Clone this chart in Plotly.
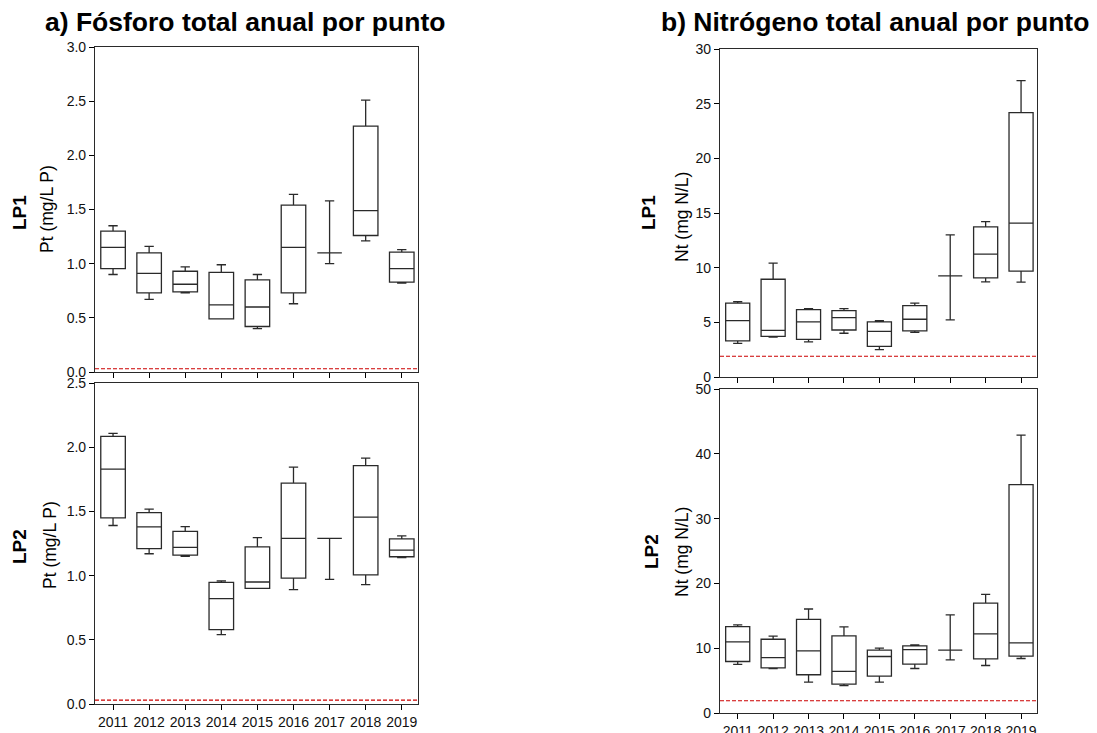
import plotly.graph_objects as go
from plotly.subplots import make_subplots

years = ["2011", "2012", "2013", "2014", "2015", "2016", "2017", "2018", "2019"]

# a) Fósforo total, LP1
p1_min = [0.90, 0.67, 0.73, 0.49, 0.40, 0.63, 1.00, 1.21, 0.82]
p1_q1 = [0.955, 0.73, 0.74, 0.49, 0.42, 0.73, 1.10, 1.26, 0.83]
p1_med = [1.15, 0.91, 0.81, 0.62, 0.60, 1.15, 1.10, 1.49, 0.955]
p1_q3 = [1.30, 1.10, 0.93, 0.92, 0.85, 1.54, 1.10, 2.27, 1.106]
p1_max = [1.35, 1.16, 0.97, 0.99, 0.90, 1.64, 1.58, 2.51, 1.13]

# a) Fósforo total, LP2
p2_min = [1.39, 1.17, 1.15, 0.54, 0.90, 0.89, 0.97, 0.93, 1.14]
p2_q1 = [1.45, 1.21, 1.16, 0.58, 0.90, 0.98, 1.29, 1.005, 1.147]
p2_med = [1.83, 1.38, 1.22, 0.82, 0.95, 1.29, 1.29, 1.456, 1.198]
p2_q3 = [2.085, 1.49, 1.345, 0.948, 1.224, 1.72, 1.29, 1.856, 1.286]
p2_max = [2.108, 1.518, 1.381, 0.959, 1.296, 1.845, 1.29, 1.915, 1.309]

# b) Nitrógeno total, LP1
n1_min = [3.08, 3.66, 3.21, 4.00, 2.50, 4.09, 5.22, 8.70, 8.67]
n1_q1 = [3.30, 3.72, 3.45, 4.30, 2.81, 4.21, 9.25, 9.07, 9.68]
n1_med = [5.16, 4.27, 5.04, 5.43, 4.18, 5.28, 9.25, 11.23, 14.07]
n1_q3 = [6.75, 8.94, 6.17, 6.07, 5.04, 6.53, 9.25, 13.74, 24.18]
n1_max = [6.90, 10.41, 6.26, 6.26, 5.16, 6.75, 13.00, 14.22, 27.11]

# b) Nitrógeno total, LP2
n2_min = [7.49, 6.87, 4.77, 4.21, 4.77, 6.87, 8.21, 7.33, 8.41]
n2_q1 = [7.95, 6.97, 5.90, 4.46, 5.69, 7.54, 9.69, 8.36, 8.77]
n2_med = [10.97, 8.56, 9.59, 6.41, 8.72, 9.79, 9.69, 12.21, 10.82]
n2_q3 = [13.33, 11.38, 14.46, 11.90, 9.69, 10.36, 9.69, 16.97, 35.23]
n2_max = [13.59, 11.85, 16.05, 13.28, 10.00, 10.51, 15.13, 18.31, 42.87]

p_limit = 0.03
n_limit = 1.9

titles = ["a) Fósforo total anual por punto", "b) Nitrógeno total anual por punto"]
row_labels = ["LP1", "LP2"]
unit_p = "Pt (mg/L P)"
unit_n = "Nt (mg N/L)"

FONT = "Liberation Sans, Arial, sans-serif"
LINE = "#2a2a2a"

fig = make_subplots(rows=2, cols=2)

panels = [
    (1, 1, p1_min, p1_q1, p1_med, p1_q3, p1_max, p_limit),
    (2, 1, p2_min, p2_q1, p2_med, p2_q3, p2_max, p_limit),
    (1, 2, n1_min, n1_q1, n1_med, n1_q3, n1_max, n_limit),
    (2, 2, n2_min, n2_q1, n2_med, n2_q3, n2_max, n_limit),
]

for r, c, mn, q1, md, q3, mx, lim in panels:
    fig.add_trace(
        go.Box(
            x=years, q1=q1, median=md, q3=q3, lowerfence=mn, upperfence=mx,
            boxpoints=False, width=0.68, whiskerwidth=0.38,
            line=dict(color=LINE, width=1.3), fillcolor="rgba(0,0,0,0)",
            hoverinfo="skip", showlegend=False,
        ),
        row=r, col=c,
    )
    fig.add_hline(y=lim, row=r, col=c, line=dict(color="#cc0000", width=1.1, dash="4px,2px"))

# the page body adds an 8px offset; the figure is sized and positioned to compensate
OFFX, OFFY = 8, 8
W, H = 1097 - OFFX, 733 - OFFY
def dx(a, b):
    return [(a - OFFX) / W, (b - OFFX) / W]
def dy(top, bottom):
    return [1 - (bottom - OFFY) / H, 1 - (top - OFFY) / H]
def px(x):
    return (x - OFFX) / W
def py(y):
    return 1 - (y - OFFY) / H

axis_common = dict(
    showline=True, mirror=True, linecolor=LINE, linewidth=1.2,
    ticks="outside", ticklen=5, tickcolor="#000", tickwidth=1,
    showgrid=False, zeroline=False, automargin=False,
    tickfont=dict(family=FONT, size=14, color="#111"),
)

fig.update_layout(
    xaxis=dict(domain=dx(95, 418), range=[-0.5, 8.45], showticklabels=False, **axis_common),
    xaxis3=dict(domain=dx(95, 418), range=[-0.5, 8.45], **axis_common),
    xaxis2=dict(domain=dx(720, 1037), range=[-0.5, 8.45], showticklabels=False, **axis_common),
    xaxis4=dict(domain=dx(720, 1037), range=[-0.5, 8.45], **axis_common),
    yaxis=dict(domain=dy(47, 372), range=[0, 3.0], dtick=0.5, tickformat=".1f", **axis_common),
    yaxis3=dict(domain=dy(383, 704), range=[0, 2.5], dtick=0.5, tickformat=".1f", **axis_common),
    yaxis2=dict(domain=dy(49, 377), range=[0, 30], dtick=5, **axis_common),
    yaxis4=dict(domain=dy(389, 713), range=[0, 50], dtick=10, **axis_common),
)

annotations = [
    dict(text="<b>" + titles[0] + "</b>", x=px(245), y=py(22), font=dict(size=26.5)),
    dict(text="<b>" + titles[1] + "</b>", x=px(875), y=py(22), font=dict(size=26.5)),
    dict(text="<b>" + row_labels[0] + "</b>", x=px(19), y=py(213), textangle=-90, font=dict(size=19)),
    dict(text=unit_p, x=px(47), y=py(209), textangle=-90, font=dict(size=17.5)),
    dict(text="<b>" + row_labels[1] + "</b>", x=px(19), y=py(547), textangle=-90, font=dict(size=19)),
    dict(text=unit_p, x=px(50), y=py(545), textangle=-90, font=dict(size=17.5)),
    dict(text="<b>" + row_labels[0] + "</b>", x=px(648), y=py(213), textangle=-90, font=dict(size=19)),
    dict(text=unit_n, x=px(682), y=py(217), textangle=-90, font=dict(size=17.5)),
    dict(text="<b>" + row_labels[1] + "</b>", x=px(651), y=py(552), textangle=-90, font=dict(size=19)),
    dict(text=unit_n, x=px(682), y=py(552), textangle=-90, font=dict(size=17.5)),
]
for a in annotations:
    a.update(xref="paper", yref="paper", showarrow=False, xanchor="center", yanchor="middle")
    a["font"].update(family=FONT, color="#000")

fig.update_layout(
    annotations=annotations,
    width=W, height=H,
    margin=dict(l=0, r=0, t=0, b=0, autoexpand=False),
    paper_bgcolor="white", plot_bgcolor="white",
    font=dict(family=FONT, color="#000"),
    showlegend=False,
)

fig.write_html("out.html")
